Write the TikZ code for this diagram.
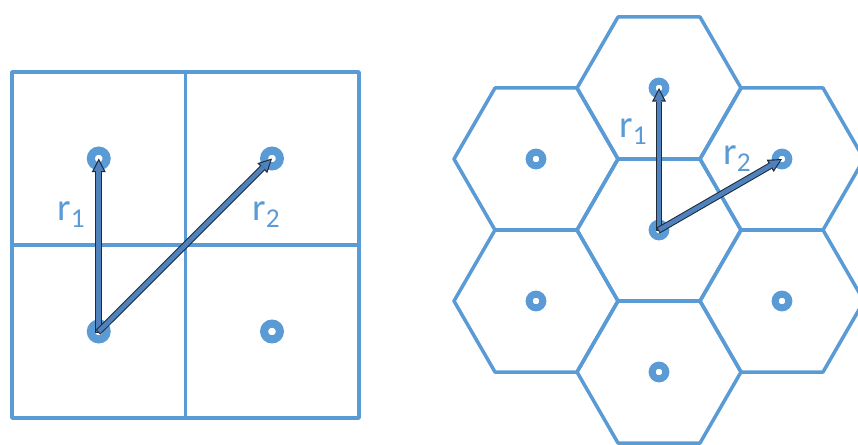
\documentclass[tikz,border=0pt]{standalone}
\usepackage{fontspec}
\newfontfamily\labelfont{Carlito}
\usetikzlibrary{arrows.meta}

\definecolor{cellblue}{HTML}{5B9BD5}
\definecolor{vecblue}{HTML}{4F81BD}
\definecolor{vecdark}{HTML}{1E2B3A}

\newcommand{\veclab}[1]{r\raisebox{-4.3pt}{\fontsize{15.5}{16}\selectfont #1}}

\tikzset{
  border/.style={draw=cellblue, line width=2pt, line join=round, line cap=round},
  bigdot/.style={circle, draw=cellblue, line width=4.6pt, minimum size=9pt, inner sep=0pt},
  smalldot/.style={circle, draw=cellblue, line width=4pt, minimum size=7.8pt, inner sep=0pt},
  veclabel/.style={text=cellblue, font=\labelfont\fontsize{22}{23}\selectfont, anchor=base west, inner sep=0pt},
  vecback/.style={draw=vecdark, line width=3.8pt, shorten <=-0.6pt, -{Triangle[length=7.8pt,width=8pt,line width=0pt]}},
  vecfront/.style={draw=vecblue, line width=2.6pt, shorten >=1.3pt, -{Triangle[length=5.8pt,width=5.8pt,line width=0pt]}},
}

\begin{document}
\begin{tikzpicture}[x=0.02cm, y=-0.02cm]

  \clip (0,0) rectangle (858,444);

  % Quadrillage carre
  \draw[border] (12,72) rectangle (359,418);
  \draw[border] (185.5,72) -- (185.5,418);
  \draw[border] (12,245) -- (359,245);

  % Centres des cases
  \node[bigdot] (sq1) at (98.75,158.5) {};
  \node[bigdot] (sq2) at (272,158.5) {};
  \node[bigdot] (sq3) at (98.75,331.5) {};
  \node[bigdot] (sq4) at (272,331.5) {};

  % Reseau hexagonal
  \foreach \i/\dx/\dy in {0/0/0, 1/0/-142, 2/123/-71, 3/123/71, 4/0/142, 5/-123/71, 6/-123/-71} {
    \pgfmathsetmacro{\cx}{659+\dx}
    \pgfmathsetmacro{\cy}{230+\dy}
    \draw[border] ([shift={(\cx,\cy)}]0:82)
      \foreach \a in {60,120,...,300} { -- ([shift={(\cx,\cy)}]\a:82) } -- cycle;
    \node[smalldot] (hx\i) at (\cx,\cy) {};
  }

  % Vecteurs
  \foreach \a/\b in {sq3/sq1, sq3/sq2, hx0/hx1, hx0/hx2} {
    \draw[vecback] (\a.center) -- (\b.center);
    \draw[vecfront] (\a.center) -- (\b.center);
  }

  % Etiquettes
  \node[veclabel] (lr1) at (57,220) {\veclab{1}};
  \node[veclabel] (lr2) at (252,220) {\veclab{2}};
  \node[veclabel] (hr1) at (619,137) {\veclab{1}};
  \node[veclabel] (hr2) at (723,164) {\veclab{2}};

\end{tikzpicture}
\end{document}
